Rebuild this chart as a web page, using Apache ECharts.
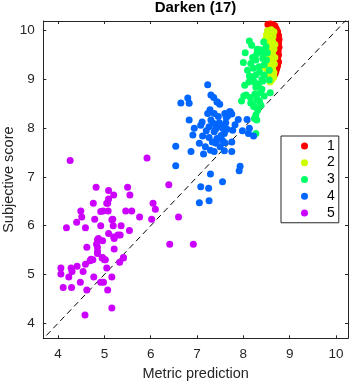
<!DOCTYPE html>
<html>
<head>
<meta charset="utf-8">
<script src="https://cdn.jsdelivr.net/npm/echarts@6/dist/echarts.min.js"></script>
<style>
  html, body { margin: 0; padding: 0; background: #fff; }
  #main { width: 351px; height: 385px; }
</style>
</head>
<body>
<div id="main"></div>
<script>
const xTicks = [4, 5, 6, 7, 8, 9, 10];
const yTicks = [4, 5, 6, 7, 8, 9, 10];
const xRange = [3.68, 10.26];
const yRange = [3.69, 10.2];
const diagLine = [[3.6, 3.6], [10.4, 10.4]];
const classNames = ["1", "2", "3", "4", "5"];
const classColors = ["#ff0000", "#ccff00", "#00ff66", "#0066ff", "#cc00ff"];

const class1 = [
  [8.53,10.13],[8.58,10.14],[8.63,10.13],[8.68,10.10],[8.71,10.04],[8.74,9.98],[8.76,9.90],
  [8.77,9.82],[8.76,9.74],[8.77,9.66],[8.75,9.58],[8.76,9.50],[8.74,9.42],[8.76,9.36],
  [8.74,9.28],[8.72,9.22],[8.70,9.16],[8.68,9.11],[8.71,9.68],[8.72,9.86],[8.73,9.46],
  [8.70,9.30],[8.72,9.55]
];
const class2 = [
  [8.52,10.00],[8.60,10.02],[8.66,9.98],[8.50,9.92],[8.58,9.90],[8.64,9.88],[8.48,9.82],
  [8.56,9.80],[8.63,9.78],[8.68,9.72],[8.52,9.72],[8.60,9.68],[8.66,9.62],[8.50,9.60],
  [8.56,9.55],[8.63,9.52],[8.68,9.45],[8.48,9.48],[8.55,9.42],[8.62,9.38],[8.67,9.32],
  [8.50,9.35],[8.57,9.28],[8.63,9.22],[8.46,9.25],[8.53,9.18],[8.60,9.12],[8.66,9.15],
  [8.50,9.10],[8.56,9.05],[8.62,9.00],[8.58,8.95],[8.66,9.05]
];
const class3 = [
  [8.13,9.79],[8.18,9.70],[8.44,9.77],[8.04,9.55],[8.29,9.53],[8.37,9.61],[8.49,9.67],
  [8.52,9.55],[8.00,9.35],[8.16,9.33],[8.27,9.40],[8.42,9.43],[8.09,9.19],[8.22,9.23],
  [8.34,9.26],[8.13,9.07],[8.27,9.09],[8.45,9.09],[8.56,9.19],[8.24,8.95],[8.42,8.97],
  [8.56,8.99],[8.03,8.88],[8.27,8.84],[8.37,8.73],[8.58,8.73],[8.01,8.66],[7.96,8.56],
  [8.15,8.63],[8.29,8.58],[8.45,8.66],[8.16,8.52],[8.38,8.47],[8.31,8.37],[8.27,8.27],
  [8.29,8.17],[8.27,7.89],[8.20,9.45],[8.35,9.15],[8.40,9.00],[8.20,9.05],[8.33,8.90],
  [8.25,8.70],[8.35,8.55],[8.45,9.30],[8.50,9.40],[8.30,9.62],[8.12,8.95],[8.40,8.80],
  [8.22,8.45],[8.30,8.60],[8.42,9.55],[8.24,8.44],[8.06,8.68],[8.24,8.20]
];
const class4 = [
  [7.23,8.89],[7.30,8.68],[7.36,8.63],[6.80,8.62],[6.65,8.52],[6.83,8.51],[7.43,8.54],
  [7.49,8.49],[7.28,8.34],[7.37,8.30],[7.70,8.34],[7.75,8.29],[6.83,8.17],[7.11,8.13],
  [7.08,8.06],[7.30,8.17],[7.48,8.11],[7.62,8.11],[7.89,8.18],[8.08,8.18],[7.26,8.03],
  [7.43,8.03],[7.55,8.00],[6.94,8.00],[7.77,7.96],[7.98,7.95],[7.37,7.93],[7.59,7.89],
  [8.11,7.89],[6.91,7.86],[7.12,7.84],[7.26,7.81],[7.43,7.79],[8.22,7.84],[7.05,7.69],
  [7.41,7.69],[7.60,7.70],[7.75,7.72],[6.54,7.63],[7.29,7.55],[7.37,7.52],[7.59,7.54],
  [7.75,7.52],[6.87,7.52],[7.14,7.47],[6.54,7.23],[7.93,7.22],[7.91,7.13],[7.29,7.06],
  [7.55,6.90],[7.08,6.80],[7.25,6.77],[7.05,6.47],[7.26,6.51],[7.28,8.38],[7.23,8.30],
  [7.72,8.34],[8.13,8.00],[7.44,8.54],[7.35,8.10],[7.50,8.05],[7.40,7.98],[7.52,7.85],
  [7.65,7.98],[7.33,7.72],[7.50,7.62],[7.20,7.95],[7.18,7.62],[7.63,8.22],[7.82,8.07],
  [7.55,7.75],[7.46,8.24],[7.60,8.30],[7.66,8.25]
];
const class5 = [
  [4.26,7.34],[5.92,7.39],[4.82,6.79],[5.09,6.72],[5.50,6.79],[5.20,6.63],[5.55,6.63],
  [6.39,6.84],[4.76,6.46],[5.05,6.46],[6.05,6.46],[6.10,6.34],[4.49,6.30],[4.97,6.30],
  [5.08,6.30],[5.46,6.30],[5.59,6.30],[4.51,6.18],[4.79,6.13],[5.18,6.13],[5.76,6.18],
  [6.02,6.13],[6.60,6.18],[4.40,6.07],[4.92,6.00],[5.19,6.00],[4.18,5.96],[4.59,5.96],
  [5.36,6.00],[5.54,5.90],[5.09,5.84],[5.20,5.77],[5.34,5.81],[4.85,5.71],[4.96,5.69],
  [4.83,5.62],[5.21,5.52],[4.62,5.56],[6.41,5.62],[6.92,5.62],[4.85,5.47],[4.71,5.31],
  [4.96,5.35],[5.41,5.35],[5.00,5.30],[4.06,5.13],[4.06,5.01],[4.11,4.73],[4.29,4.73],
  [4.28,5.13],[4.30,5.06],[4.41,5.17],[4.23,4.95],[4.48,4.84],[4.54,5.06],[4.59,5.21],
  [4.62,4.68],[4.58,4.17],[4.69,5.28],[4.75,5.30],[4.77,4.95],[4.92,4.84],[4.98,4.84],
  [4.95,5.34],[5.02,5.30],[5.05,5.13],[5.07,4.68],[5.16,4.95],[5.16,4.31],[5.33,5.25],
  [5.41,5.34],[4.92,6.29],[5.16,6.12],[5.21,5.74],[4.87,5.74],[4.85,5.56],[4.85,5.43],
  [5.29,5.81],[5.07,6.46],[5.09,6.55]
];
const classData = [class1, class2, class3, class4, class5];

const FONT = "Liberation Sans";
const AX = "#262626";

function axisCommon(ticks, range, showLabels) {
  return {
    type: "value",
    min: range[0],
    max: range[1],
    splitLine: { show: false },
    axisLine: { show: true, onZero: false, lineStyle: { color: AX, width: 1 } },
    axisTick: { show: true, inside: true, length: 3, customValues: ticks, lineStyle: { color: AX } },
    axisLabel: {
      show: showLabels,
      customValues: ticks,
      color: AX,
      fontFamily: FONT,
      fontSize: 13.5,
      margin: 8.5
    }
  };
}

const chart = echarts.init(document.getElementById("main"));

let series = classData.map(function (pts, i) {
  return {
    name: classNames[i],
    type: "scatter",
    data: pts,
    symbol: "circle",
    symbolSize: 7,
    itemStyle: { color: classColors[i], opacity: 1 },
    z: 3 + i
  };
});
series.unshift({
  name: "diag",
  type: "line",
  data: diagLine,
  showSymbol: false,
  symbol: "none",
  clip: true,
  lineStyle: { color: "#000", width: 1, type: [6, 4] },
  z: 2
});

chart.setOption({
  animation: false,
  title: {
    text: "Darken (17)",
    left: 195.5,
    top: 0,
    padding: 0,
    textAlign: "center",
    textStyle: { fontFamily: FONT, fontSize: 15, fontWeight: "bold", color: "#000" }
  },
  grid: { left: 43.3, right: 3, top: 21, bottom: 46.7, containLabel: false, outerBoundsMode: "none" },
  legend: {
    data: classNames,
    orient: "vertical",
    left: 281,
    top: 136,
    icon: "circle",
    itemWidth: 7,
    itemHeight: 7,
    itemGap: 0,
    padding: [1.5, 4, 1.5, 20],
    borderColor: AX,
    borderWidth: 1,
    backgroundColor: "#fff",
    textStyle: { fontFamily: FONT, fontSize: 14, color: "#000", lineHeight: 16.75, padding: [0, 0, 0, 14] }
  },
  xAxis: [
    Object.assign(axisCommon(xTicks, xRange, true), {
      position: "bottom",
      name: "Metric prediction",
      nameLocation: "middle",
      nameGap: 28,
      nameMoveOverlap: false,
      nameTextStyle: { fontFamily: FONT, fontSize: 14.5, color: AX }
    }),
    Object.assign(axisCommon(xTicks, xRange, false), { position: "top" })
  ],
  yAxis: [
    Object.assign(axisCommon(yTicks, yRange, true), {
      position: "left",
      name: "Subjective score",
      nameLocation: "middle",
      nameGap: 27,
      nameMoveOverlap: false,
      nameTextStyle: { fontFamily: FONT, fontSize: 14.5, color: AX }
    }),
    Object.assign(axisCommon(yTicks, yRange, false), { position: "right" })
  ],
  series: series
});
</script>
</body>
</html>
